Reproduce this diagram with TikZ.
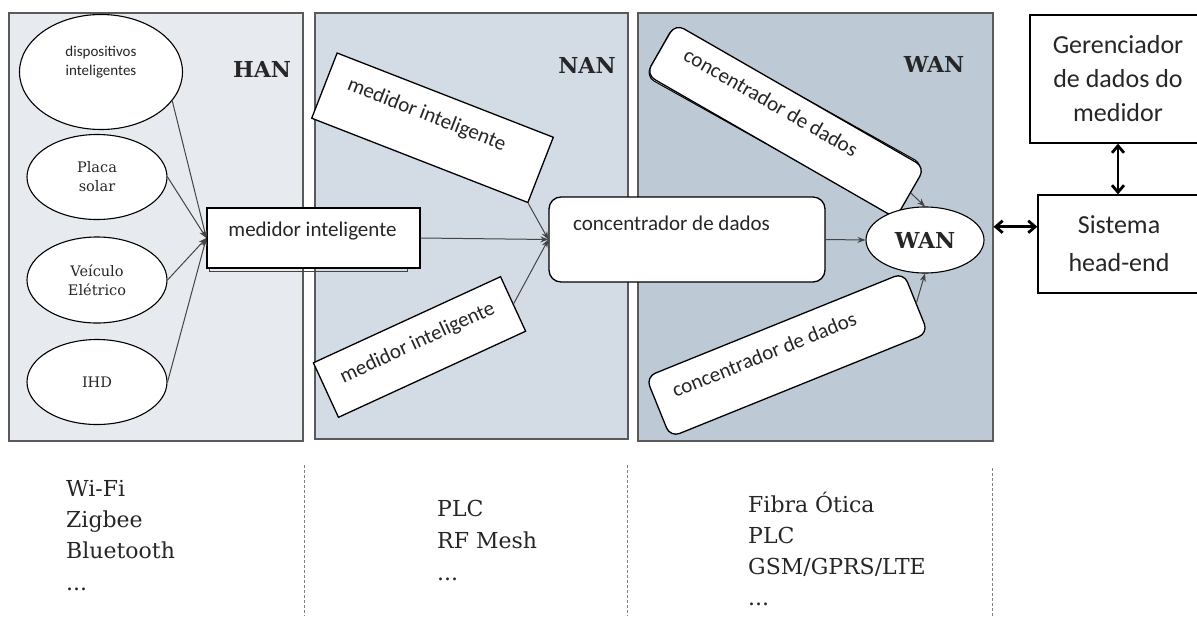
\documentclass[tikz,border=0pt]{standalone}
\usepackage{fontspec}
\newfontfamily\calfont{Carlito}
\newfontfamily\serfont{DejaVu Serif}
\usetikzlibrary{arrows.meta,shapes.geometric}
\definecolor{hanfill}{HTML}{E7EBEF}
\definecolor{nanfill}{HTML}{D3DCE4}
\definecolor{wanfill}{HTML}{BDC9D5}
\definecolor{panelborder}{HTML}{5A5A5A}
\definecolor{arrowgrey}{HTML}{444444}
\definecolor{txt}{HTML}{262626}
\newcommand{\offtext}[3]{\raisebox{#2}[0pt][0pt]{\makebox[0pt]{\hspace*{#1}\hspace*{#1}#3}}}
\newcommand{\cstack}[1]{\begin{tabular}{@{}c@{}}#1\end{tabular}}
\tikzset{
  panel/.style={draw=panelborder, line width=1.5pt, anchor=north west, inner sep=0pt},
  sbox/.style={draw=black, fill=white, line width=1.3pt, inner sep=0pt, text=txt,
    font=\calfont\fontsize{21}{25}\selectfont},
  rbox/.style={sbox, rounded corners=10pt},
  ell/.style={ellipse, draw=black, fill=white, line width=1.1pt, inner sep=0pt, align=center, text=txt,
    font=\serfont\fontsize{14.5}{19}\selectfont},
  arr/.style={draw=arrowgrey, line width=1pt, -{Stealth[length=8pt,width=6pt]}},
  big/.style={draw=black, line width=2.8pt, {Straight Barb[length=7pt,width=12pt]}-{Straight Barb[length=7pt,width=12pt]}},
  plbl/.style={font=\serfont\bfseries\fontsize{22}{26}\selectfont, text=txt, inner sep=0pt},
  coltxt/.style={anchor=base west, inner sep=0pt, text=txt, font=\serfont\fontsize{22}{30}\selectfont},
  dline/.style={draw=gray, line width=0.8pt, dash pattern=on 3pt off 2pt},
  rtbox/.style={draw=black, fill=white, line width=1.3pt, inner sep=0pt, align=center, text=txt,
    font=\calfont\fontsize{26}{34}\selectfont}
}
\begin{document}
\begin{tikzpicture}[x=1pt,y=-1pt]
\useasboundingbox (0,0) rectangle (1197,616);
\begin{scope}
\clip (0,0) rectangle (1197,616);
% panels
\node[panel, fill=hanfill, minimum width=294pt, minimum height=428pt] (han) at (8,12) {};
\node[panel, fill=nanfill, minimum width=313pt, minimum height=426pt] (nan) at (314,12) {};
\node[panel, fill=wanfill, minimum width=355pt, minimum height=428pt] (wanp) at (637,12) {};
\node[plbl] (hanl) at (262,69) {HAN};
\node[plbl] (nanl) at (587,65) {NAN};
\node[plbl] (wanl) at (934,64) {WAN};

% HAN ellipses
\node[ell, minimum width=163pt, minimum height=115pt, font=\calfont\fontsize{15}{19}\selectfont] (disp) at (101,72)
  {\raisebox{6pt}[0pt][0pt]{\cstack{dispositivos\\inteligentes}}};
\node[ell, minimum width=140pt, minimum height=85pt] (placa) at (97,177) {Placa\\solar};
\node[ell, minimum width=140pt, minimum height=86pt] (veic) at (97,280) {Veículo\\Elétrico};
\node[ell, minimum width=140pt, minimum height=85pt] (ihd) at (97,382) {IHD};

% HAN meter
\draw[draw=arrowgrey, line width=1pt] (209,214) rectangle (407,271.5);
\node[sbox, minimum width=213pt, minimum height=60pt] (med) at (313.5,238) {\offtext{-1pt}{2pt}{medidor inteligente}};

\draw[arr] (disp.-22) -- (med.west);
\draw[arr] (placa.east) -- (med.west);
\draw[arr] (veic.east) -- (med.west);
\draw[arr] (ihd.east) -- (med.west);

% NAN meters
\node[sbox, rotate=-21.3, minimum width=232pt, minimum height=70pt] (nt) at (432.5,127.75) {\offtext{-10pt}{4pt}{medidor inteligente}};
\node[sbox, rotate=24.7, minimum width=206pt, minimum height=60pt] (nb) at (419.5,347) {\offtext{0pt}{-1pt}{medidor inteligente}};

% concentrators
\node[rbox, rounded corners=12pt, minimum width=276pt, minimum height=85pt] (conc) at (687,239.5) {\offtext{-15.5pt}{9.5pt}{concentrador de dados}};

\draw[arr] (nt.south east) -- (conc.west);
\draw[arr] (med.east) -- (conc.west);
\draw[arr] (nb.east) -- (conc.west);

\node[draw=black, fill=white, line width=1pt, rounded corners=10pt, rotate=-29.2, minimum width=286pt, minimum height=58.5pt] (wtsh) at (784.5,120.5) {};
\node[rbox, rotate=-29.9, minimum width=288pt, minimum height=58.5pt] (wt) at (785.5,121) {\offtext{-22pt}{2pt}{concentrador de dados}};
\node[rbox, rotate=22, minimum width=278pt, minimum height=65pt] (wb) at (787,355) {\offtext{-21pt}{2pt}{concentrador de dados}};

% WAN cloud
\node[ell, minimum width=118pt, minimum height=66pt, font=\serfont\bfseries\fontsize{22}{26}\selectfont] (wanell) at (925,240) {WAN};

\draw[arr] (conc.east) -- (wanell.west);
\draw[arr] (wt.east) -- (wanell.north);
\draw[arr] (wb.east) -- (wanell.south);

% right side
\node[rtbox, minimum width=176pt, minimum height=128pt] (ger) at (1118,79) {Gerenciador\\de dados do\\medidor};
\node[rtbox, minimum width=162pt, minimum height=98pt, font=\calfont\fontsize{26}{38}\selectfont] (sys) at (1119,244) {Sistema\\head-end};
\draw[big] (wanp.east) -- (wanp.east -| sys.west);
\draw[big] (ger.south) -- (ger.south |- sys.north);

% dashed separators
\coordinate (d1t) at (304,465); \coordinate (d1b) at (304,616);
\coordinate (d2t) at (627,465); \coordinate (d2b) at (627,616);
\coordinate (d3t) at (992,468); \coordinate (d3b) at (992,616);
\draw[dline] (d1t) -- (d1b);
\draw[dline] (d2t) -- (d2b);
\draw[dline] (d3t) -- (d3b);

% technologies
\node[coltxt] (c1a) at (66,496) {Wi-Fi};
\node[coltxt] (c1b) at (66,527) {Zigbee};
\node[coltxt] (c1c) at (66,558) {Bluetooth};
\node[coltxt] (c1d) at (66,590) {...};
\node[coltxt] (c2a) at (437,516) {PLC};
\node[coltxt] (c2b) at (437,548) {RF Mesh};
\node[coltxt] (c2c) at (437,580) {...};
\node[coltxt] (c3a) at (748,512) {Fibra Ótica};
\node[coltxt] (c3b) at (748,543) {PLC};
\node[coltxt] (c3c) at (748,574) {GSM/GPRS/LTE};
\node[coltxt] (c3d) at (748,605) {...};
\end{scope}
\end{tikzpicture}
\end{document}
